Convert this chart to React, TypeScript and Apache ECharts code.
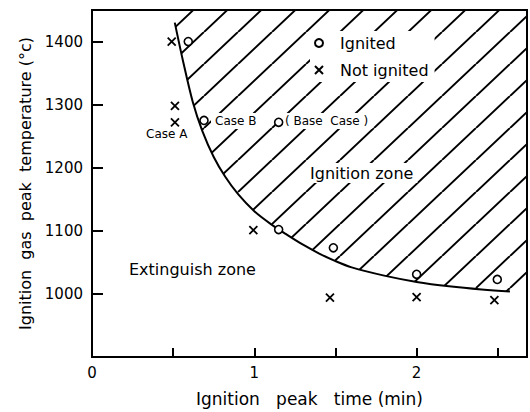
import React, { useEffect, useRef } from "react";
import * as echarts from "echarts";

// ---- data ----
const curveX = [0.51, 0.56, 0.62, 0.68, 0.75, 0.82, 0.9, 1.0, 1.1, 1.2, 1.3, 1.4, 1.5, 1.6, 1.8, 2.0, 2.2, 2.4, 2.575];
const curveY = [1430, 1370, 1305, 1258, 1217, 1186, 1158, 1131, 1111, 1094, 1078, 1064, 1052, 1042, 1029, 1019, 1012, 1007, 1004];
const hatchEndX = 2.68;

const ignitedX = [0.593, 0.69, 1.15, 1.15, 1.487, 2.0, 2.497];
const ignitedY = [1400, 1275, 1272, 1102, 1073, 1031, 1023];
const notIgnitedX = [0.491, 0.511, 0.511, 0.994, 1.466, 2.0, 2.479];
const notIgnitedY = [1400, 1298, 1272, 1101, 994, 995, 990];

const xTickLabels = [0, 1, 2];
const yTickLabels = [1000, 1100, 1200, 1300, 1400];

const FONT = "DejaVu Sans";

const hatchTile =
  "data:image/svg+xml;charset=utf-8," +
  encodeURIComponent(
    "<svg xmlns='http://www.w3.org/2000/svg' width='34' height='32'><path d='M-34 32L0 0M0 32L34 0M34 32L68 0' stroke='#000' stroke-width='2' fill='none'/></svg>"
  );

export default function App() {
  const ref = useRef<HTMLDivElement>(null);
  useEffect(() => {
    if (!ref.current) return;
    const chart = echarts.init(ref.current, null, { renderer: "svg" });
    const curve = curveX.map((x, i) => [x, curveY[i]]);
    const hatch = [...curve, [hatchEndX, curveY[curveY.length - 1]]];
    const label = (text: string, left: number, top: number, size: number) => ({
      type: "text",
      left,
      top,
      z: 2,
      style: {
        text,
        font: `${size}px "${FONT}"`,
        fill: "#000",
        backgroundColor: "#fff",
        padding: [2, 4, 2, 4],
      },
    });
    chart.setOption({
      animation: false,
      backgroundColor: "#fff",
      grid: {
        left: 92,
        right: 3,
        top: 10,
        bottom: 54,
        show: true,
        borderColor: "#000",
        borderWidth: 2,
        backgroundColor: "transparent",
      },
      legend: {
        data: ["Ignited", "Not ignited"],
        orient: "vertical",
        left: 310,
        top: 31,
        padding: [4, 6, 4, 4],
        backgroundColor: "#fff",
        itemWidth: 8,
        itemHeight: 8,
        itemGap: 11,
        z: 10,
        textStyle: { fontFamily: FONT, fontSize: 16, color: "#000", padding: [0, 0, 0, 12] },
      },
      xAxis: {
        type: "value",
        min: 0,
        max: 2.68,
        interval: 0.5,
        name: "Ignition   peak   time (min)",
        nameLocation: "middle",
        nameGap: 33,
        nameTextStyle: { fontFamily: FONT, fontSize: 17, color: "#000" },
        axisLine: { show: true, lineStyle: { color: "#000", width: 2 } },
        axisTick: { show: true, inside: true, length: 9, lineStyle: { color: "#000", width: 2 } },
        axisLabel: {
          fontFamily: FONT,
          fontSize: 15,
          color: "#000",
          margin: 8,
          formatter: (v: number) => (xTickLabels.indexOf(v) >= 0 ? String(v) : ""),
        },
        splitLine: { show: false },
      },
      yAxis: {
        type: "value",
        min: 900,
        max: 1450,
        interval: 100,
        name: "Ignition  gas  peak  temperature (°c)",
        nameLocation: "middle",
        nameRotate: 90,
        nameGap: 58,
        nameTextStyle: { fontFamily: FONT, fontSize: 16, color: "#000" },
        axisLine: { show: true, onZero: false, lineStyle: { color: "#000", width: 2 } },
        axisTick: { show: true, inside: true, length: 11, lineStyle: { color: "#000", width: 2 } },
        axisLabel: {
          fontFamily: FONT,
          fontSize: 15,
          color: "#000",
          margin: 9,
          formatter: (v: number) => (yTickLabels.indexOf(v) >= 0 ? String(v) : ""),
        },
        splitLine: { show: false },
      },
      graphic: [
        { type: "text", left: 146, top: 128, z: 2, style: { text: "Case A", font: `12px "${FONT}"`, fill: "#000" } },
        label("Case B", 211, 113, 12),
        label("( Base  Case )", 281, 113, 12),
        label("Ignition zone", 306, 163, 16),
        { type: "text", left: 129, top: 261, z: 2, style: { text: "Extinguish zone", font: `16px "${FONT}"`, fill: "#000" } },
      ],
      series: [
        {
          name: "hatch",
          type: "line",
          data: hatch,
          smooth: 0.3,
          showSymbol: false,
          silent: true,
          lineStyle: { width: 0, opacity: 0 },
          areaStyle: {
            origin: "end",
            opacity: 1,
            color: { image: hatchTile, repeat: "repeat", imageWidth: 34, imageHeight: 32 },
          },
          z: 1,
        },
        {
          name: "curve",
          type: "line",
          data: curve,
          smooth: 0.3,
          showSymbol: false,
          silent: true,
          lineStyle: { color: "#000", width: 2 },
          z: 3,
        },
        {
          name: "Ignited",
          type: "scatter",
          data: ignitedX.map((x, i) => [x, ignitedY[i]]),
          symbol: "circle",
          symbolSize: 8,
          itemStyle: { color: "#fff", borderColor: "#000", borderWidth: 1.6, opacity: 1 },
          z: 4,
        },
        {
          name: "Not ignited",
          type: "scatter",
          data: notIgnitedX.map((x, i) => [x, notIgnitedY[i]]),
          symbol: "path://M0,0L10,10M10,0L0,10",
          symbolSize: 8,
          itemStyle: { color: "#000", borderColor: "#000", borderWidth: 1.8, opacity: 1 },
          z: 4,
        },
      ],
    });
    return () => chart.dispose();
  }, []);
  return (
    <div
      ref={ref}
      style={{ position: "fixed", left: 0, top: 0, width: 530, height: 412, background: "#fff" }}
    />
  );
}
